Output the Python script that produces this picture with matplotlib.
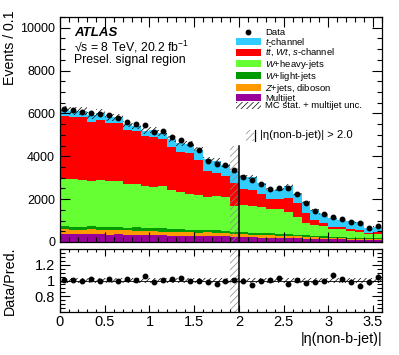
import numpy as np
import matplotlib
matplotlib.use("Agg")
import matplotlib.pyplot as plt
from matplotlib.patches import Patch, Rectangle
from matplotlib.lines import Line2D
from matplotlib.ticker import MultipleLocator, FixedLocator

plt.rcParams["font.family"] = ["Liberation Sans", "DejaVu Sans"]
plt.rcParams["mathtext.fontset"] = "custom"
plt.rcParams["mathtext.rm"] = "Liberation Sans"
plt.rcParams["mathtext.it"] = "Liberation Sans:italic"
plt.rcParams["hatch.linewidth"] = 0.5

# |eta(non-b-jet)| bins of width 0.1
edges = np.round(np.arange(0, 3.61, 0.1), 2)

data = [6215, 6140, 6090, 6030, 5985, 5905, 5800, 5620, 5490, 5480,
        5140, 5170, 4900, 4760, 4570, 4310, 3800, 3620, 3600, 3350,
        3040, 2880, 2710, 2460, 2530, 2530, 2260, 1800, 1460, 1300,
        1180, 1055, 945, 870, 640, 745]

multijet = [370, 360, 370, 380, 360, 350, 360, 340, 330, 320,
            320, 310, 300, 300, 290, 280, 300, 270, 260, 250,
            230, 220, 200, 200, 190, 180, 170, 160, 150, 140,
            130, 120, 110, 110, 90, 100]
zjets = [220, 220, 210, 220, 210, 200, 210, 200, 200, 190,
         190, 180, 180, 170, 170, 160, 150, 150, 140, 140,
         130, 120, 120, 110, 100, 100, 90, 80, 70, 60,
         60, 50, 50, 40, 40, 40]
wlight = [150, 140, 130, 160, 150, 150, 140, 130, 160, 140,
          140, 150, 130, 130, 120, 120, 130, 120, 110, 100,
          100, 100, 90, 90, 90, 80, 80, 70, 60, 60,
          50, 50, 50, 40, 40, 40]
wheavy = [2220, 2230, 2190, 2080, 2160, 2160, 2130, 2050, 2010, 1950,
          1910, 1960, 1810, 1740, 1660, 1630, 1540, 1600, 1590, 1210,
          1260, 1240, 1210, 1160, 1140, 1060, 840, 570, 500, 500,
          380, 380, 310, 300, 210, 210]
ttbar = [2900, 2885, 2925, 2780, 2823, 2692, 2723, 2490, 2465, 2330,
         2355, 2229, 2014, 1860, 1898, 1620, 1198, 1093, 1000, 1063,
         772, 768, 632, 430, 471, 655, 632, 472, 224, 135,
         94, 98, 80, 70, 60, 60]
tchan = [330, 280, 290, 290, 330, 260, 260, 300, 260, 240,
         330, 280, 370, 400, 450, 500, 560, 570, 500, 560,
         560, 590, 480, 460, 470, 560, 430, 500, 480, 410,
         390, 340, 360, 370, 210, 260]
mc_unc = [170, 165, 165, 160, 160, 155, 155, 150, 145, 140,
          140, 140, 130, 125, 125, 115, 105, 100, 100, 90,
          85, 85, 75, 70, 70, 70, 60, 50, 40, 36,
          30, 28, 26, 25, 18, 20]

components = [
    (multijet, "#990099", "Multijet"),
    (zjets, "#ff9900", r"$Z$+jets, diboson"),
    (wlight, "#009900", r"$W$+light-jets"),
    (wheavy, "#66ff33", r"$W$+heavy-jets"),
    (ttbar, "#ff0000", r"$t\bar{t}$, $Wt$, $s$-channel"),
    (tchan, "#33ccff", r"$t$-channel"),
]

cut_lo, cut_hi = 1.9, 2.0
cut_top = 4480

data = np.array(data, dtype=float)
centers = 0.5 * (edges[1:] + edges[:-1])

fig = plt.figure(figsize=(3.99, 3.55), dpi=100)
ax = fig.add_axes([60 / 399, 1 - 242 / 355, 322 / 399, 225 / 355])
rax = fig.add_axes([60 / 399, 1 - 312 / 355, 322 / 399, 63 / 355])

bottom = np.zeros(len(centers))
for vals, col, _ in components:
    top = bottom + np.array(vals, dtype=float)
    ax.stairs(top, edges, baseline=bottom, fill=True, color=col, lw=0)
    bottom = top
total = bottom
unc = np.array(mc_unc, dtype=float)

ax.bar(centers, 2 * unc, bottom=total - unc, width=0.1, fill=False,
       hatch="//////", edgecolor="black", linewidth=0)
ax.errorbar(centers, data, yerr=np.sqrt(data), fmt="o", color="black",
            ms=3.2, elinewidth=0.8, capsize=0)

# excluded region
ax.bar(0.5 * (cut_lo + cut_hi), cut_top, width=cut_hi - cut_lo, fill=False,
       hatch="/////", edgecolor="#888888", linewidth=0)
ax.plot([cut_hi, cut_hi], [0, cut_top], color="black", lw=1.1)

ax.set_xlim(0, 3.6)
ax.set_ylim(0, 10500)
ax.yaxis.set_major_locator(FixedLocator([0, 2000, 4000, 6000, 8000, 10000]))
ax.yaxis.set_minor_locator(MultipleLocator(500))
ax.xaxis.set_major_locator(MultipleLocator(0.5))
ax.xaxis.set_minor_locator(MultipleLocator(0.1))
ax.tick_params(labelbottom=False)
ax.set_ylabel("Events / 0.1", fontsize=10.2, loc="top")
ax.yaxis.set_label_coords(-0.135, 1.03)

ax.text(0.045, 0.929, "ATLAS", transform=ax.transAxes, fontsize=9.5,
        fontweight="bold", fontstyle="italic", va="center")
ax.text(0.045, 0.867, "\u221as = 8 TeV, 20.2 fb$^{-1}$", transform=ax.transAxes,
        fontsize=8.8, va="center")
ax.text(0.045, 0.809, "Presel. signal region", transform=ax.transAxes,
        fontsize=8.8, va="center")

handles = [Line2D([], [], marker="o", color="black", ls="none", ms=3.2)]
labels = ["Data"]
for vals, col, lab in components[::-1]:
    handles.append(Patch(facecolor=col, edgecolor="none"))
    labels.append(lab)
handles.append(Patch(facecolor="none", edgecolor="black", hatch="//////", lw=0))
labels.append("MC stat. + multijet unc.")
ax.legend(handles, labels, loc="upper left", bbox_to_anchor=(0.547, 0.95),
          frameon=False, fontsize=6.8, borderpad=0, labelspacing=-0.12,
          handlelength=2.6, handleheight=0.8, handletextpad=0.5, borderaxespad=0)

# |eta| > 2.0 marker legend
ax.add_patch(Rectangle((0.578, 0.45), 0.025, 0.05, transform=ax.transAxes,
                       fill=False, hatch="/////", edgecolor="#888888", lw=0))
ax.plot([0.605, 0.605], [0.45, 0.50], transform=ax.transAxes, color="black", lw=0.9)
ax.text(0.622, 0.475, "|\u03b7(non-b-jet)| > 2.0", transform=ax.transAxes,
        fontsize=8.1, va="center")

# ratio panel
ratio = data / total
rax.bar(centers, 2 * unc / total, bottom=1 - unc / total, width=0.1, fill=False,
        hatch="//////", edgecolor="black", linewidth=0)
rax.axhline(1, color="black", lw=0.6)
rax.errorbar(centers, ratio, yerr=np.sqrt(data) / total, fmt="o", color="black",
             ms=3.2, elinewidth=0.8, capsize=0)
rax.bar(0.5 * (cut_lo + cut_hi), 0.8, bottom=0.6, width=cut_hi - cut_lo,
        fill=False, hatch="/////", edgecolor="#888888", linewidth=0)
rax.axvline(cut_hi, color="black", lw=1.1)
rax.set_xlim(0, 3.6)
rax.set_ylim(0.6, 1.4)
rax.yaxis.set_major_locator(FixedLocator([0.8, 1.0, 1.2]))
rax.yaxis.set_major_formatter(matplotlib.ticker.FixedFormatter(["0.8", "1", "1.2"]))
rax.yaxis.set_minor_locator(MultipleLocator(0.05))
rax.xaxis.set_major_locator(MultipleLocator(0.5))
rax.xaxis.set_minor_locator(MultipleLocator(0.1))
rax.xaxis.set_major_formatter(matplotlib.ticker.FuncFormatter(lambda v, p: f"{v:g}"))
rax.set_ylabel("Data/Pred.", fontsize=10.3)
rax.yaxis.set_label_coords(-0.135, 0.5)
rax.set_xlabel("|\u03b7(non-b-jet)|", fontsize=10.3, loc="right", labelpad=2)

for a in (ax, rax):
    a.tick_params(which="both", direction="in", top=True, right=True, width=0.8)
    a.tick_params(which="major", length=7)
    a.tick_params(which="minor", length=3.5)
    for s in a.spines.values():
        s.set_linewidth(0.9)
ax.tick_params(labelsize=9)
rax.tick_params(labelsize=10.5)
rax.tick_params(which="major", axis="x", length=5)
rax.tick_params(which="minor", axis="x", length=2.5)
rax.tick_params(axis="x", pad=2)

fig.savefig("out.png", dpi=100)
